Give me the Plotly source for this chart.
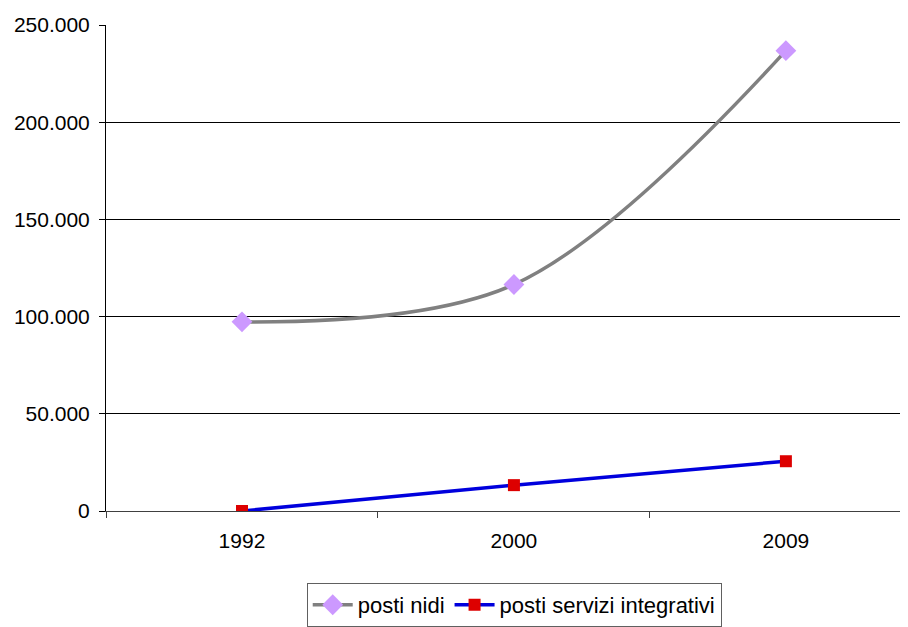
import plotly.graph_objects as go

anni = ["1992", "2000", "2009"]
posti_nidi = [97300, 116500, 236800]
posti_servizi_integrativi = [0, 13300, 25600]
y_ticks = [0, 50000, 100000, 150000, 200000, 250000]

fig = go.Figure()
fig.add_trace(go.Scatter(
    x=anni, y=posti_nidi, name="posti nidi", mode="lines+markers",
    line=dict(color="#808080", width=3.5, shape="spline", smoothing=1),
    marker=dict(symbol="diamond", size=16, color="#CC99FF", line=dict(width=0)),
))
fig.add_trace(go.Scatter(
    x=anni, y=posti_servizi_integrativi, name="posti servizi integrativi", mode="lines+markers",
    line=dict(color="#0000DD", width=3.5),
    marker=dict(symbol="square", size=12, color="#DD0000", line=dict(width=0)),
))

fig.update_layout(
    width=900, height=619,
    margin=dict(l=98, r=0, t=17, b=109),
    plot_bgcolor="white", paper_bgcolor="white",
    separators=",.",
    font=dict(family="Liberation Sans, Arial, sans-serif", size=21, color="black"),
    showlegend=True,
    legend=dict(
        orientation="h", x=0.509, xanchor="center", y=-0.148, yanchor="top",
        bordercolor="#606060", borderwidth=1, bgcolor="white",
        font=dict(size=22), itemwidth=40,
    ),
)
fig.update_xaxes(
    type="category", range=[-0.5, 2.449],
    showgrid=False, showline=True, linecolor="#404040", linewidth=1,
    ticks="outside", ticklen=6, tickcolor="#404040", tickson="boundaries",
    ticklabelstandoff=11,
)
fig.update_yaxes(
    range=[0, 250000], tickvals=y_ticks, tickformat=",d",
    showgrid=True, gridcolor="black", gridwidth=1,
    showline=True, linecolor="black", linewidth=1,
    ticks="outside", ticklen=6, tickcolor="black",
    ticklabelstandoff=5, zeroline=False,
)

fig.write_html("out.html")
